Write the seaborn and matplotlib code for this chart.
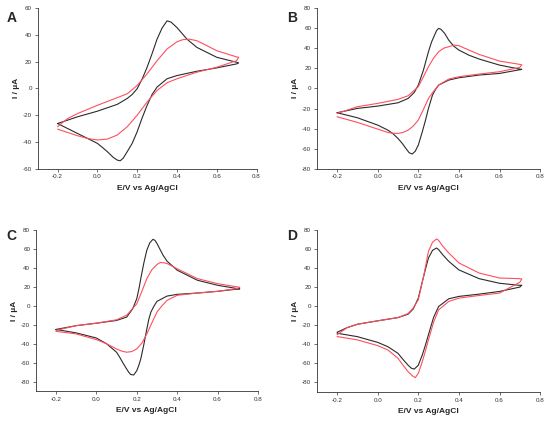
import matplotlib
matplotlib.use("Agg")

import matplotlib.pyplot as plt
import seaborn as sns

# --- Panel A ---
a_black_E = [-0.2, -0.1, 0.0, 0.1, 0.15, 0.175, 0.2, 0.225, 0.25, 0.275, 0.3, 0.325, 0.35, 0.37, 0.4, 0.45, 0.5, 0.6, 0.7, 0.71,
             0.7, 0.6, 0.5, 0.4, 0.35, 0.3, 0.275, 0.25, 0.225, 0.2, 0.175, 0.15, 0.13, 0.115, 0.1, 0.08, 0.05, 0.025, 0.0, -0.05, -0.1, -0.2]
a_black_I = [-26.2, -21.2, -17.0, -11.9, -7.5, -4.5, -0.2, 7.0, 15.8, 26.0, 36.8, 45.0, 50.4, 49.5, 45.4, 36.8, 30.6, 23.2, 19.5, 19.0,
             18.3, 15.3, 12.8, 9.6, 7.2, 1.0, -4.5, -12.6, -22.0, -32.3, -41.0, -47.2, -52.0, -54.0, -53.5, -51.5, -47.2, -44.0, -41.0, -37.3, -33.6, -26.2]
a_red_E = [-0.2, -0.15, -0.1, 0.0, 0.1, 0.15, 0.2, 0.25, 0.3, 0.35, 0.4, 0.43, 0.46, 0.5, 0.55, 0.6, 0.7, 0.71,
           0.7, 0.6, 0.5, 0.4, 0.35, 0.3, 0.25, 0.2, 0.15, 0.1, 0.05, 0.0, -0.05, -0.1, -0.2]
a_red_I = [-28.5, -22.5, -18.8, -12.6, -6.9, -4.0, 2.2, 10.9, 20.7, 29.4, 34.8, 36.4, 36.8, 35.6, 31.9, 28.1, 23.5, 23.2,
           20.7, 15.8, 12.1, 7.2, 4.2, -1.5, -10.1, -20.0, -28.6, -34.8, -37.8, -38.5, -37.3, -35.3, -30.4]

# --- Panel B ---
b_black_E = [-0.2, -0.1, 0.0, 0.1, 0.15, 0.18, 0.2, 0.225, 0.25, 0.265, 0.28, 0.29, 0.3, 0.31, 0.32, 0.33, 0.35, 0.375, 0.4, 0.45, 0.5, 0.6, 0.7, 0.71,
             0.7, 0.6, 0.5, 0.4, 0.35, 0.3, 0.285, 0.27, 0.25, 0.235, 0.22, 0.2, 0.185, 0.17, 0.155, 0.14, 0.12, 0.1, 0.075, 0.05, 0.0, -0.1, -0.2]
b_black_I = [-24.2, -19.9, -17.6, -14.3, -10.0, -4.0, 3.3, 18.0, 36.5, 46.0, 53.0, 57.5, 59.7, 59.0, 57.0, 54.7, 48.0, 42.0, 38.1, 33.0, 29.2, 23.2, 19.2, 18.9,
             18.6, 14.9, 13.3, 10.6, 8.3, 3.3, -1.0, -6.6, -19.9, -32.0, -43.0, -56.4, -62.5, -65.3, -64.0, -60.0, -54.5, -49.8, -45.0, -41.5, -36.5, -29.2, -24.2]
b_red_E = [-0.2, -0.1, 0.0, 0.1, 0.15, 0.2, 0.225, 0.25, 0.275, 0.3, 0.325, 0.35, 0.376, 0.4, 0.45, 0.5, 0.6, 0.7, 0.71,
           0.7, 0.6, 0.5, 0.4, 0.35, 0.3, 0.275, 0.25, 0.225, 0.2, 0.175, 0.15, 0.125, 0.1, 0.075, 0.05, 0.0, -0.1, -0.2]
b_red_I = [-24.9, -18.2, -14.9, -10.9, -7.3, 1.7, 11.5, 21.6, 30.0, 36.5, 40.0, 41.5, 43.1, 42.5, 38.1, 33.8, 27.2, 23.9, 23.5,
           20.9, 16.6, 14.3, 11.6, 9.3, 3.3, -3.0, -10.0, -21.0, -31.5, -37.5, -41.5, -43.8, -44.8, -44.6, -43.8, -40.5, -33.8, -28.2]

# --- Panel C ---
c_black_E = [-0.2, -0.1, 0.0, 0.1, 0.15, 0.18, 0.2, 0.21, 0.22, 0.235, 0.25, 0.265, 0.28, 0.29, 0.3, 0.315, 0.33, 0.35, 0.4, 0.5, 0.6, 0.7, 0.71,
             0.7, 0.6, 0.5, 0.4, 0.35, 0.3, 0.285, 0.27, 0.26, 0.25, 0.235, 0.22, 0.21, 0.2, 0.185, 0.17, 0.16, 0.145, 0.13, 0.115, 0.1, 0.05, 0.0, -0.1, -0.2]
c_black_I = [-25.0, -21.0, -18.4, -15.5, -12.0, -3.2, 7.4, 17.0, 28.6, 45.0, 58.7, 66.5, 70.0, 69.0, 65.7, 59.5, 53.4, 47.0, 37.5, 26.9, 21.6, 18.0, 17.8,
             17.6, 15.2, 13.4, 12.0, 10.2, 4.6, -0.5, -6.7, -14.0, -24.4, -41.0, -56.0, -63.0, -68.5, -73.0, -72.5, -70.0, -65.0, -59.7, -54.0, -49.0, -40.0, -34.0, -28.6, -25.0]
c_red_E = [-0.2, -0.1, 0.0, 0.1, 0.15, 0.2, 0.225, 0.25, 0.275, 0.3, 0.317, 0.335, 0.35, 0.4, 0.5, 0.6, 0.7, 0.71,
           0.7, 0.6, 0.5, 0.4, 0.35, 0.325, 0.3, 0.275, 0.25, 0.225, 0.2, 0.175, 0.15, 0.125, 0.1, 0.05, 0.0, -0.1, -0.2]
c_red_I = [-26.0, -21.0, -18.4, -14.8, -10.0, 2.0, 15.0, 28.6, 38.0, 43.5, 45.6, 45.3, 44.5, 39.0, 28.6, 23.3, 19.8, 19.5,
           18.2, 15.2, 13.4, 11.0, 5.7, 0.0, -6.7, -18.0, -29.7, -39.5, -45.6, -48.3, -49.0, -47.8, -45.6, -40.0, -35.7, -29.7, -27.0]

# --- Panel D ---
d_black_E = [-0.2, -0.15, -0.1, 0.0, 0.1, 0.15, 0.175, 0.2, 0.22, 0.235, 0.25, 0.27, 0.29, 0.3, 0.32, 0.35, 0.4, 0.5, 0.6, 0.7, 0.71,
             0.7, 0.6, 0.5, 0.4, 0.35, 0.3, 0.275, 0.25, 0.235, 0.22, 0.2, 0.18, 0.165, 0.15, 0.125, 0.1, 0.05, 0.0, -0.1, -0.2]
d_black_I = [-27.4, -22.5, -19.0, -15.4, -12.0, -8.4, -3.0, 8.4, 26.0, 38.5, 50.5, 58.5, 61.0, 59.3, 54.0, 47.0, 38.0, 28.8, 24.0, 21.8, 22.0,
             20.0, 15.4, 12.6, 10.2, 7.7, -0.4, -12.0, -30.0, -41.0, -51.0, -62.0, -66.0, -65.0, -62.0, -56.0, -49.5, -42.5, -38.0, -32.0, -28.4]
d_red_E = [-0.2, -0.15, -0.1, 0.0, 0.1, 0.15, 0.175, 0.2, 0.225, 0.25, 0.27, 0.29, 0.3, 0.32, 0.35, 0.4, 0.5, 0.6, 0.7, 0.71,
           0.7, 0.6, 0.5, 0.4, 0.35, 0.3, 0.275, 0.25, 0.235, 0.22, 0.2, 0.185, 0.17, 0.15, 0.125, 0.1, 0.05, 0.0, -0.1, -0.2]
d_red_I = [-30.0, -22.5, -19.0, -15.4, -12.0, -7.7, -2.0, 6.7, 30.0, 57.5, 67.0, 70.5, 69.0, 63.0, 55.8, 45.3, 34.7, 29.5, 28.8, 28.5,
           25.0, 13.7, 11.2, 8.4, 4.9, -3.9, -17.0, -35.4, -47.0, -58.0, -70.5, -75.0, -73.0, -68.8, -62.0, -54.7, -46.0, -41.4, -35.4, -31.9]

panel_letters = ["A", "B", "C", "D"]
y_ranges = [(-60, 60), (-80, 80), (-90, 80), (-90, 80)]
y_ticks = [list(range(-60, 61, 20)), list(range(-80, 81, 20)), list(range(-80, 81, 20)), list(range(-80, 81, 20))]
x_ticks = [-0.2, 0.0, 0.2, 0.4, 0.6, 0.8]

curves = [
    (a_black_E, a_black_I, a_red_E, a_red_I),
    (b_black_E, b_black_I, b_red_E, b_red_I),
    (c_black_E, c_black_I, c_red_E, c_red_I),
    (d_black_E, d_black_I, d_red_E, d_red_I),
]

sns.set_style("ticks")
plt.rcParams["font.family"] = ["Liberation Sans", "DejaVu Sans"]
plt.rcParams["axes.unicode_minus"] = False

fig = plt.figure(figsize=(5.5, 4.21), dpi=100)
# [left, bottom, width, height] in figure fractions
positions = [
    [0.0685, 0.599, 0.398, 0.382],
    [0.576, 0.599, 0.406, 0.382],
    [0.065, 0.071, 0.404, 0.383],
    [0.576, 0.069, 0.406, 0.385],
]
letter_pos = [(0.012, 0.975), (0.522, 0.975), (0.012, 0.455), (0.522, 0.455)]

for i, (bE, bI, rE, rI) in enumerate(curves):
    ax = fig.add_axes(positions[i])
    sns.lineplot(x=bE, y=bI, sort=False, estimator=None, color="#2b2b2b", lw=0.8, ax=ax)
    sns.lineplot(x=rE, y=rI, sort=False, estimator=None, color="#ff4f5e", lw=0.8, ax=ax)
    ax.set_xlim(-0.3, 0.8)
    ax.set_ylim(*y_ranges[i])
    ax.set_xticks(x_ticks)
    ax.set_xticklabels([f"{t:.1f}" for t in x_ticks])
    ax.set_yticks(y_ticks[i])
    ax.tick_params(labelsize=4.5, length=2, width=0.5, pad=2, colors="#333333")
    for s in ("left", "bottom"):
        ax.spines[s].set_linewidth(0.6)
        ax.spines[s].set_color("#333333")
    sns.despine(ax=ax)
    ax.set_xlabel("E/V vs Ag/AgCl", fontsize=6, fontweight="bold", labelpad=4)
    ax.set_ylabel("I / µA", fontsize=6, fontweight="bold", labelpad=2)
    fig.text(letter_pos[i][0], letter_pos[i][1], panel_letters[i], fontsize=10,
             fontweight="bold", va="top", ha="left")

fig.savefig("out.png", dpi=100)
